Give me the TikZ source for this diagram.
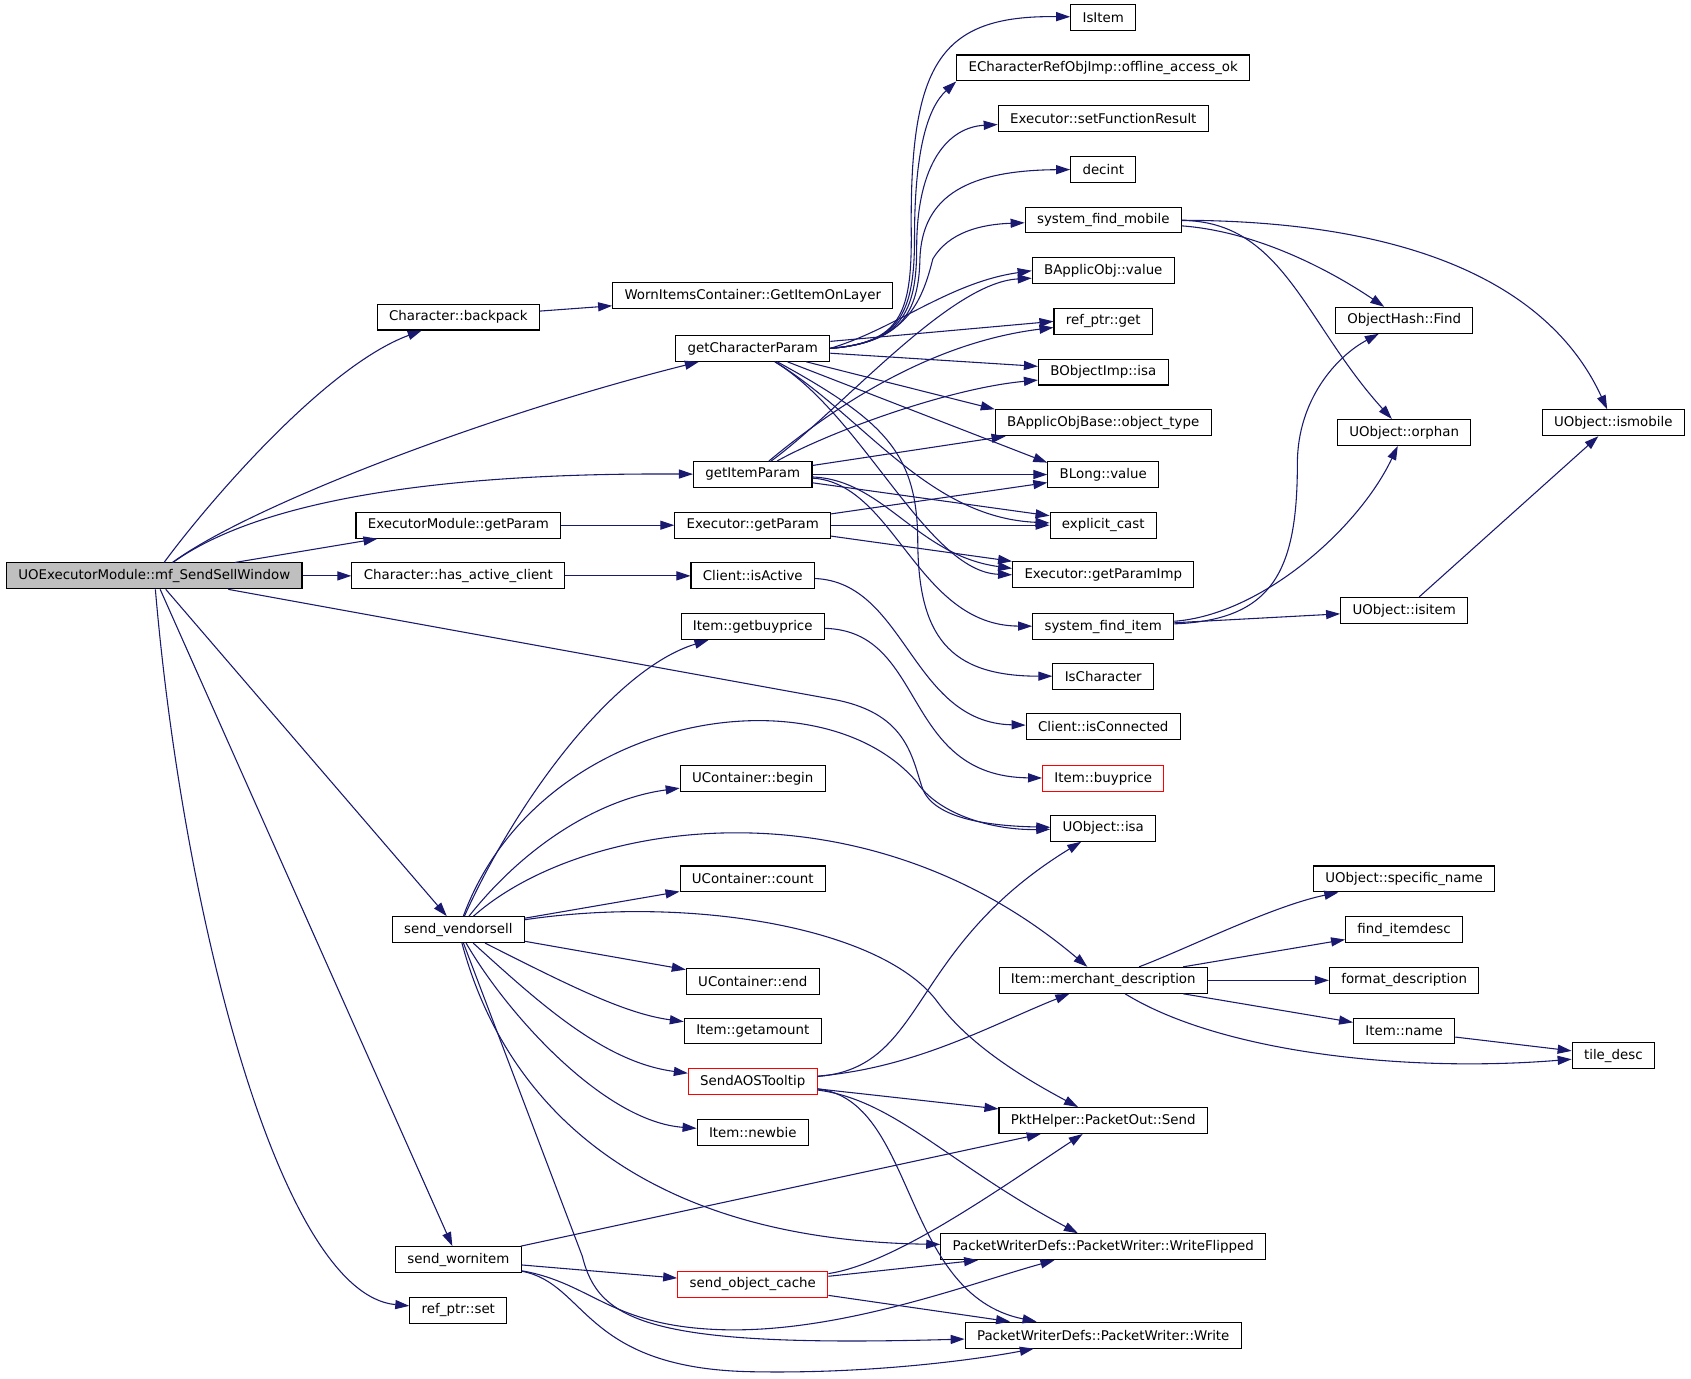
\documentclass[tikz,border=0pt]{standalone}
\usepackage{fontspec}
\setmainfont{DejaVu Sans}
\usetikzlibrary{arrows.meta}
\definecolor{EdgeBlue}{HTML}{191970}
\definecolor{RootGray}{HTML}{BFBFBF}

\begin{document}
\begin{tikzpicture}[x=0.5pt,y=-0.5pt,
    fn/.style={draw=black,line width=0.5pt,fill=white,inner xsep=5.5pt,inner ysep=0pt,
      minimum height=12pt,font=\fontsize{6.2}{7}\selectfont},
    fnred/.style={fn,draw=red},
    fnroot/.style={fn,fill=RootGray},
    call/.style={draw=EdgeBlue,line width=0.5pt,-{Triangle[length=6.5pt,width=4.2pt]}}]
    \path[use as bounding box,fill=white] (0,0) rectangle (1568,1278);

    \node[fnroot] (mf) at (143,534) {UOExecutorModule::mf\_SendSellWindow};

    \node[fn] (bp) at (425,294) {Character::backpack};
    \node[fn] (emgp) at (425,487) {ExecutorModule::getParam};
    \node[fn] (hac) at (425,534) {Character::has\_active\_client};
    \node[fn] (svs) at (425,862) {send\_vendorsell};
    \node[fn] (swi) at (425,1168) {send\_wornitem};
    \node[fn] (rps) at (425,1215) {ref\_ptr::set};

    \node[fn] (wic) at (698,274) {WornItemsContainer::GetItemOnLayer};
    \node[fn] (gcp) at (698,323) {getCharacterParam};
    \node[fn] (gip) at (698,440) {getItemParam};
    \node[fn] (egp) at (698,487) {Executor::getParam};
    \node[fn] (cia) at (698,534) {Client::isActive};
    \node[fn] (gbp) at (698,581) {Item::getbuyprice};
    \node[fn] (ucb) at (698,722) {UContainer::begin};
    \node[fn] (ucc) at (698,815) {UContainer::count};
    \node[fn] (uce) at (698,910) {UContainer::end};
    \node[fn] (iga) at (698,956) {Item::getamount};
    \node[fnred] (sat) at (698,1003) {SendAOSTooltip};
    \node[fn] (inb) at (698,1050) {Item::newbie};
    \node[fnred] (soc) at (698,1191) {send\_object\_cache};

    \node[fn] (isitem) at (1023,16) {IsItem};
    \node[fn] (ecr) at (1023,63) {ECharacterRefObjImp::offline\_access\_ok};
    \node[fn] (esfr) at (1023,110) {Executor::setFunctionResult};
    \node[fn] (decint) at (1023,157) {decint};
    \node[fn] (sfm) at (1023,204) {system\_find\_mobile};
    \node[fn] (bov) at (1023,251) {BApplicObj::value};
    \node[fn] (rpg) at (1023,298) {ref\_ptr::get};
    \node[fn] (boi) at (1023,345) {BObjectImp::isa};
    \node[fn] (bot) at (1023,392) {BApplicObjBase::object\_type};
    \node[fn] (blv) at (1023,440) {BLong::value};
    \node[fn] (ec) at (1023,487) {explicit\_cast};
    \node[fn] (gpi) at (1023,533) {Executor::getParamImp};
    \node[fn] (sfi) at (1023,581) {system\_find\_item};
    \node[fn] (isch) at (1023,627) {IsCharacter};
    \node[fn] (cic) at (1023,674) {Client::isConnected};
    \node[fnred] (ibp) at (1023,722) {Item::buyprice};
    \node[fn] (uisa) at (1023,768) {UObject::isa};
    \node[fn] (imd) at (1023,909) {Item::merchant\_description};
    \node[fn] (pos) at (1023,1039) {PktHelper::PacketOut::Send};
    \node[fn] (pwf) at (1023,1156) {PacketWriterDefs::PacketWriter::WriteFlipped};
    \node[fn] (pw) at (1023,1238) {PacketWriterDefs::PacketWriter::Write};

    \node[fn] (ohf) at (1302,297) {ObjectHash::Find};
    \node[fn] (uor) at (1302,401) {UObject::orphan};
    \node[fn] (uisi) at (1302,566) {UObject::isitem};
    \node[fn] (usn) at (1302,815) {UObject::specific\_name};
    \node[fn] (fid) at (1302,862) {find\_itemdesc};
    \node[fn] (fd) at (1302,909) {format\_description};
    \node[fn] (inm) at (1302,956) {Item::name};

    \node[fn] (uism) at (1496,392) {UObject::ismobile};
    \node[fn] (td) at (1496,979) {tile\_desc};

    \draw[call] (mf) .. controls (190,470) and (300,340) .. (bp);
    \draw[call] (mf) .. controls (230,470) and (450,385) .. (gcp);
    \draw[call] (mf) .. controls (235,468) and (390,438) .. (gip);
    \draw[call] (mf) -- (emgp);
    \draw[call] (mf) -- (hac);
    \draw[call] (mf) -- (770,648) .. controls (840,660) and (845,700) .. (855,730) .. controls (865,760) and (920,766) .. (uisa);
    \draw[call] (mf) -- (svs);
    \draw[call] (mf) -- (swi);
    \draw[call] (mf) .. controls (170,850) and (260,1200) .. (rps);

    \draw[call] (bp) -- (wic);
    \draw[call] (emgp) -- (egp);
    \draw[call] (hac) -- (cia);

    \draw[call] (gcp.east) .. controls (835,318) and (845,290) .. (845,220) .. controls (843,60) and (870,14) .. (isitem);
    \draw[call] (gcp.east) .. controls (835,318) and (848,290) .. (848,220) .. controls (848,140) and (860,100) .. (ecr.south west);
    \draw[call] (gcp.east) .. controls (835,318) and (850,290) .. (850,230) .. controls (850,150) and (880,118) .. (esfr);
    \draw[call] (gcp.east) .. controls (835,318) and (852,290) .. (853,240) .. controls (855,180) and (900,158) .. (decint);
    \draw[call] (gcp.east) .. controls (840,318) and (855,280) .. (865,240) .. controls (880,215) and (910,208) .. (sfm);
    \draw[call] (gcp.east) .. controls (830,305) and (880,262) .. (bov.west);
    \draw[call] (gcp) -- (rpg.west);
    \draw[call] (gcp) -- (boi.175);
    \draw[call] (gcp) -- (bot.north west);
    \draw[call] (gcp) -- (blv.168);
    \draw[call] (gcp) .. controls (800,385) and (860,480) .. (ec);
    \draw[call] (gcp) .. controls (800,385) and (860,530) .. (gpi.west);
    \draw[call] (gcp) .. controls (820,390) and (850,420) .. (851,500) .. controls (851,590) and (880,627) .. (isch);

    \draw[call] (gip) .. controls (780,380) and (880,262) .. (bov.186);
    \draw[call] (gip) .. controls (770,380) and (860,318) .. (rpg.187);
    \draw[call] (gip) .. controls (770,400) and (880,360) .. (boi.187);
    \draw[call] (gip) -- ([xshift=5pt]bot.south west);
    \draw[call] (gip) -- (blv);
    \draw[call] (gip) -- (ec.170);
    \draw[call] (gip) .. controls (820,445) and (850,515) .. (gpi.176);
    \draw[call] (gip) .. controls (830,448) and (850,580) .. (sfi);

    \draw[call] (egp) -- (blv);
    \draw[call] (egp) -- (ec);
    \draw[call] (egp) -- (gpi.north west);
    \draw[call] (cia) .. controls (840,540) and (845,670) .. (cic);
    \draw[call] (gbp) .. controls (860,585) and (835,720) .. (ibp);

    \draw[call] (sfm) .. controls (1170,215) and (1240,255) .. (ohf);
    \draw[call] (sfm) .. controls (1190,205) and (1210,300) .. (uor);
    \draw[call] (sfm) .. controls (1320,205) and (1440,270) .. (uism);
    \draw[call] (sfi) .. controls (1180,575) and (1203,530) .. (1203,430) .. controls (1203,370) and (1240,330) .. (ohf);
    \draw[call] (sfi) .. controls (1170,570) and (1260,490) .. (uor);
    \draw[call] (sfi) -- (uisi);
    \draw[call] (uisi) -- (uism);

    \draw[call] (svs) .. controls (480,740) and (570,620) .. (gbp);
    \draw[call] (svs) .. controls (500,660) and (760,620) .. (850,725) .. controls (870,755) and (920,770) .. (uisa);
    \draw[call] (svs) .. controls (490,780) and (560,740) .. (ucb);
    \draw[call] (svs) .. controls (540,760) and (800,720) .. (imd);
    \draw[call] (svs) -- (ucc);
    \draw[call] (svs) .. controls (640,830) and (820,860) .. (870,930) .. controls (900,970) and (950,1000) .. (pos);
    \draw[call] (svs) -- (uce);
    \draw[call] (svs) .. controls (530,915) and (580,940) .. (iga);
    \draw[call] (svs) .. controls (500,930) and (560,985) .. (sat);
    \draw[call] (svs) .. controls (470,940) and (560,1040) .. (inb);
    \draw[call] (svs) .. controls (470,1030) and (600,1150) .. (pwf);
    \draw[call] (svs) -- (540,1165) .. controls (555,1225) and (600,1250) .. (pw);

    \draw[call] (sat) .. controls (860,990) and (840,880) .. (uisa);
    \draw[call] (sat) .. controls (850,990) and (920,950) .. (imd);
    \draw[call] (sat) -- (pos);
    \draw[call] (sat) .. controls (830,1020) and (880,1080) .. (pwf);
    \draw[call] (sat) .. controls (850,1020) and (835,1200) .. (pw);

    \draw[call] (imd) .. controls (1100,880) and (1180,840) .. (usn);
    \draw[call] (imd) -- (fid);
    \draw[call] (imd) -- (fd);
    \draw[call] (imd) -- (inm);
    \draw[call] (imd) .. controls (1130,975) and (1300,995) .. (td);
    \draw[call] (inm) -- (td);

    \draw[call] (swi) -- (pos);
    \draw[call] (swi) -- (soc);
    \draw[call] (swi) .. controls (550,1190) and (565,1230) .. (670,1233) .. controls (780,1236) and (900,1190) .. (pwf);
    \draw[call] (swi) .. controls (545,1190) and (540,1270) .. (700,1272) .. controls (820,1274) and (920,1258) .. (pw);

    \draw[call] (soc) .. controls (830,1172) and (930,1100) .. (pos);
    \draw[call] (soc) -- (pwf);
    \draw[call] (soc) -- (pw);
  \end{tikzpicture}
\end{document}
